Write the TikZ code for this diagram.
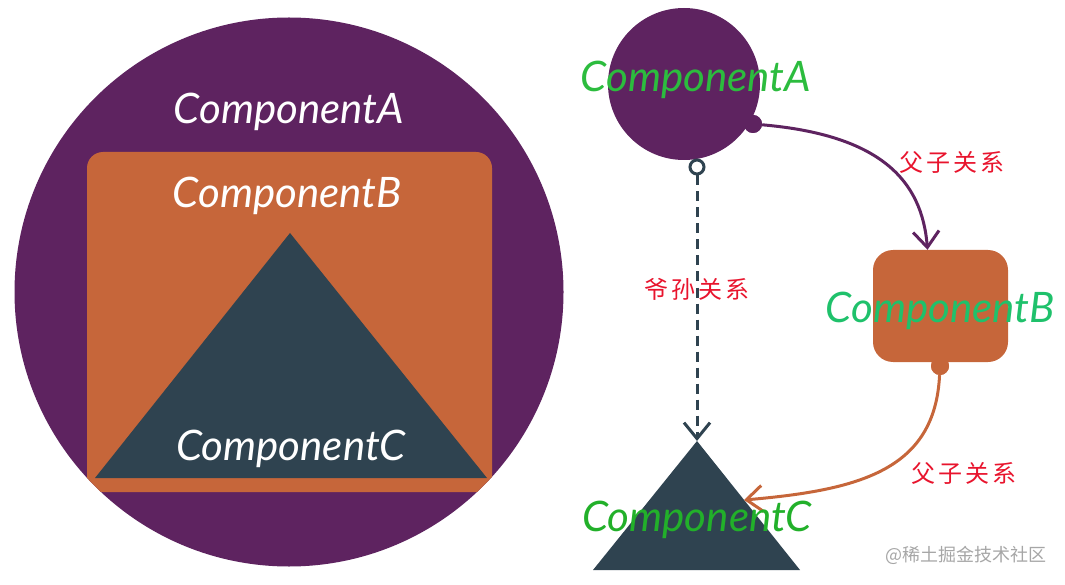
\documentclass[tikz,border=0pt]{standalone}
\usepackage{fontspec}
\setmainfont{Lato}
\newfontfamily\cjk[LetterSpace=12]{Noto Sans CJK SC}
\newfontfamily\cjkmark{Noto Sans CJK SC}
\usepackage{tikz}
\usetikzlibrary{arrows.meta,calc,positioning,shapes.geometric}

\definecolor{compA}{HTML}{5E2360}
\definecolor{compB}{HTML}{C6663A}
\definecolor{compC}{HTML}{2F4350}
\definecolor{greenA}{HTML}{2CBC3E}
\definecolor{greenB}{HTML}{1FC16B}
\definecolor{greenC}{HTML}{22B02A}
\definecolor{relred}{HTML}{E8142D}

\begin{document}
\begin{tikzpicture}[x=1pt,y=-1pt,
  compname/.style={font=\fontsize{42}{42}\selectfont\itshape},
  rel/.style={font=\cjk\fontsize{24}{24}\selectfont,text=relred},
  barb/.style={-{Straight Barb[length=16pt,width=26pt]},line width=3pt},
  dot/.style={circle,inner sep=0pt,minimum size=18pt},
  ring/.style={circle,draw=compC,fill=white,line width=3pt,inner sep=0pt,minimum size=14pt}]
\useasboundingbox (0,0) rectangle (1065,585);

% Nested view
\node[circle,fill=compA,inner sep=0pt,minimum size=549pt] (bigA) at (289,292) {};
\begin{scope}
\clip (289,292) circle[radius=274.5pt];
\node[fill=compB,rounded corners=16pt,inner sep=0pt,
      minimum width=405pt,minimum height=340pt] (bigB) at (289.5,322) {};
\end{scope}
\fill[compC] (290,233) -- (487,478) -- (95,478) -- cycle;
\node[compname,text=white] (labA) at (289,112) {ComponentA};
\node[compname,text=white] (labB) at (287,196) {ComponentB};
\node[compname,text=white] (labC) at (291,449) {ComponentC};

% Tree view
\node[circle,fill=compA,inner sep=0pt,minimum size=152pt] (A) at (684,84) {};
\node[fill=compB,rounded corners=20pt,inner sep=0pt,
      minimum width=135pt,minimum height=112pt] (B) at (940.5,306) {};
\coordinate (Ctop) at (697,441);
\coordinate (Cside) at (744,500);
\fill[compC] (Ctop) -- (800,570) -- (593,570) -- cycle;

% Relations
\node[dot,fill=compA] (Aout) at (753,124) {};
\node[ring] (Adash) at (697,167) {};
\node[dot,fill=compB] (Bout) at (940,366) {};
\draw[barb,compA] (Aout) .. controls (880,135) and (922,180) .. ([xshift=-13pt]B.north);
\draw[barb,compC,dash pattern=on 10pt off 6pt] (Adash) -- (Ctop);
\draw[barb,compB] (Bout) .. controls (935,470) and (860,490) .. (Cside);
\node[dot,fill=compA] at (Aout) {};
\node[dot,fill=compB] at (Bout) {};

\node[rel] (relAB) at (952,162) {父子关系};
\node[rel] (relBC) at (964,473) {父子关系};
\node[rel] (relAC) at (697,289) {爷孙关系};

\node[compname,text=greenA] (tA) at (696,80) {ComponentA};
\node[compname,text=greenB] (tB) at (940,311) {ComponentB};
\node[compname,text=greenC] (tC) at (697,520) {ComponentC};

\node[font=\cjkmark\fontsize{18}{18}\selectfont,text=black!35] (mark) at (966,555) {@稀土掘金技术社区};
\end{tikzpicture}
\end{document}
